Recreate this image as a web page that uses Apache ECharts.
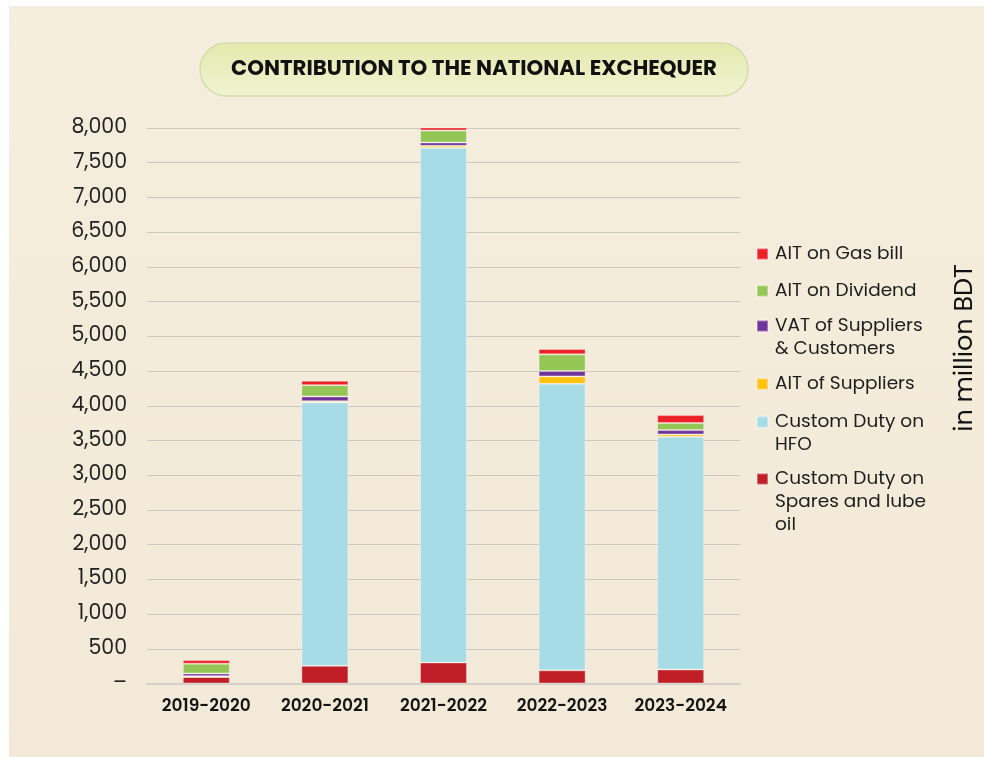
<!DOCTYPE html>
<html>
<head>
<meta charset="utf-8">
<script src="https://cdn.jsdelivr.net/npm/echarts@6/dist/echarts.min.js"></script>
<style>
  html, body { margin: 0; padding: 0; background: #ffffff; }
  #chart { width: 984px; height: 757px; }
</style>
</head>
<body>
<div id="chart"></div>
<script>
// Fiscal years on the x axis
const years = ['2019-2020', '2020-2021', '2021-2022', '2022-2023', '2023-2024'];

// Contributions in million BDT, stacked bottom to top
const spares   = [94, 255, 302, 190, 202];     // Custom Duty on Spares and lube oil
const hfo      = [0, 3792, 7412, 4128, 3350];  // Custom Duty on HFO
const aitSupp  = [12, 19, 29, 105, 35];        // AIT of Suppliers
const vat      = [39, 68, 48, 77, 62];         // VAT of Suppliers & Customers
const dividend = [140, 163, 173, 240, 101];    // AIT on Dividend
const gasBill  = [52, 63, 58, 77, 115];        // AIT on Gas bill

// Legend entries, top to bottom, with their wrapped text
const legendNames = [
  'AIT on Gas bill',
  'AIT on Dividend',
  'VAT of Suppliers & Customers',
  'AIT of Suppliers',
  'Custom Duty on HFO',
  'Custom Duty on Spares and lube oil'
];
const legendText = {
  'AIT on Gas bill': 'AIT on Gas bill',
  'AIT on Dividend': 'AIT on Dividend',
  'VAT of Suppliers & Customers': 'VAT of Suppliers\n& Customers',
  'AIT of Suppliers': 'AIT of Suppliers',
  'Custom Duty on HFO': 'Custom Duty on\nHFO',
  'Custom Duty on Spares and lube oil': 'Custom Duty on\nSpares and lube\noil'
};
const legendFirstLineY = [254, 291, 326, 384, 422, 479];

const FONT = 'Poppins, "Open Sans", Lato, sans-serif';
const LINE_H = 23;

const chart = echarts.init(document.getElementById('chart'), null, { renderer: 'canvas' });

function bar(name, data, color) {
  return {
    name: name,
    type: 'bar',
    stack: 'total',
    barWidth: 47,
    data: data,
    itemStyle: { color: color, borderColor: 'rgba(255,255,255,0.35)', borderWidth: 1 },
    emphasis: { disabled: true }
  };
}

// One legend block per entry; blank lines above the text keep the
// marker level with the first line of a wrapped name
const legends = legendNames.map(function (name, i) {
  const lines = legendText[name].split('\n').length;
  const total = 2 * lines - 1;
  return {
    data: [name],
    left: 756,
    top: legendFirstLineY[i] - (total * LINE_H) / 2,
    padding: 0,
    itemWidth: 11,
    itemHeight: 11,
    itemGap: 0,
    icon: 'rect',
    selectedMode: false,
    formatter: function (n) {
      return ' \n'.repeat(lines - 1) + legendText[n];
    },
    textStyle: {
      fontFamily: FONT,
      fontSize: 18.5,
      color: '#1e1e1e',
      lineHeight: LINE_H,
      padding: [0, 0, 0, 2]
    }
  };
});

const option = {
  backgroundColor: '#ffffff',
  animation: false,
  textStyle: { fontFamily: FONT },
  graphic: [
    {
      type: 'rect',
      z: -10,
      shape: { x: 9, y: 6, width: 975, height: 751 },
      style: {
        fill: new echarts.graphic.LinearGradient(0, 0, 0, 1, [
          { offset: 0, color: '#f5eddd' },
          { offset: 1, color: '#f2e9d8' }
        ])
      }
    },
    {
      type: 'rect',
      z: 10,
      shape: { x: 200, y: 43, width: 548, height: 53, r: 26.5 },
      style: {
        fill: new echarts.graphic.LinearGradient(0, 0, 0, 1, [
          { offset: 0, color: '#e4e9ad' },
          { offset: 1, color: '#f0f3d2' }
        ]),
        stroke: '#d6ddab',
        lineWidth: 1.5
      }
    },
    {
      type: 'text',
      z: 11,
      x: 474,
      y: 70,
      style: {
        text: 'CONTRIBUTION TO THE NATIONAL EXCHEQUER',
        font: '700 21.3px ' + FONT,
        fill: '#111111',
        align: 'center',
        verticalAlign: 'middle'
      }
    },
    {
      type: 'text',
      z: 11,
      x: 966,
      y: 348,
      rotation: Math.PI / 2,
      style: {
        text: 'in million BDT',
        font: '400 25.5px ' + FONT,
        fill: '#111111',
        align: 'center',
        verticalAlign: 'middle'
      }
    }
  ],
  legend: legends,
  grid: { left: 147, right: 244, top: 128, bottom: 73.5, containLabel: false },
  xAxis: {
    type: 'category',
    data: years,
    axisTick: { show: false },
    axisLine: { show: true, lineStyle: { color: '#d3d0ca', width: 2 } },
    axisLabel: {
      interval: 0,
      margin: 15,
      fontFamily: FONT,
      fontSize: 17,
      fontWeight: 600,
      color: '#141414'
    }
  },
  yAxis: {
    type: 'value',
    min: 0,
    max: 8000,
    interval: 500,
    axisLine: { show: false },
    axisTick: { show: false },
    splitLine: { lineStyle: { color: '#cbc8c1', width: 1 } },
    axisLabel: {
      margin: 20,
      fontFamily: FONT,
      fontSize: 20.5,
      color: '#222222',
      formatter: function (v) {
        return v === 0 ? '–' : v.toLocaleString('en-US');
      }
    }
  },
  series: [
    bar('Custom Duty on Spares and lube oil', spares, '#c01f27'),
    bar('Custom Duty on HFO', hfo, '#a7dce6'),
    bar('AIT of Suppliers', aitSupp, '#ffc20e'),
    bar('VAT of Suppliers & Customers', vat, '#70359b'),
    bar('AIT on Dividend', dividend, '#93c655'),
    bar('AIT on Gas bill', gasBill, '#ee2027')
  ]
};

chart.setOption(option);
</script>
</body>
</html>
